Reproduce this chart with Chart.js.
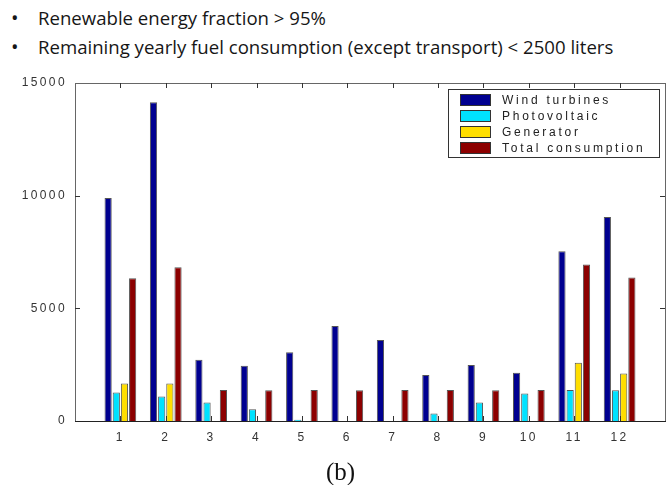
<!DOCTYPE html>
<html>
<head>
<meta charset="utf-8">
<script src="https://cdn.jsdelivr.net/npm/chart.js@4.4.0/dist/chart.umd.min.js"></script>
<style>
    html, body { margin: 0; padding: 0; background: #fff; }
    #wrap { position: relative; width: 669px; height: 485px; overflow: hidden; }
    #energy_canvas { position: absolute; left: 0; top: 0; }
    .line { position: absolute; left: 0; white-space: nowrap; font-family: "Open Sans", sans-serif; font-size: 18.6px; color: #161616; }
    .line .dot { position: absolute; left: 11px; font-size: 20px; top: -1px; }
    .line .txt { position: absolute; left: 38px; }
    #caption { position: absolute; left: 0; width: 681px; top: 458px; text-align: center; font-family: "Liberation Serif", serif; font-size: 25px; color: #111; }
</style>
</head>
<body>
<div id="wrap">
    <div class="line" style="top:5px"><span class="dot">&bull;</span><span class="txt">Renewable energy fraction &gt; 95%</span></div>
    <div class="line" style="top:34px"><span class="dot">&bull;</span><span class="txt">Remaining yearly fuel consumption (except transport) &lt; 2500 liters</span></div>
    <canvas id="energy_canvas" width="669" height="485"></canvas>
    <div id="caption">(b)</div>
</div>
<script>
// months on the x axis
var months = [1, 2, 3, 4, 5, 6, 7, 8, 9, 10, 11, 12];

// monthly energy values
var windTurbines = [9900, 14150, 2720, 2450, 3050, 4220, 3600, 2040, 2480, 2140, 7530, 9050];
var photovoltaic = [1260, 1090, 820, 520, 60, 0, 0, 330, 820, 1220, 1380, 1360];
var generator = [1660, 1660, 0, 0, 0, 0, 0, 0, 0, 0, 2580, 2110];
var totalConsumption = [6340, 6820, 1380, 1360, 1380, 1360, 1380, 1380, 1360, 1380, 6950, 6370];

var yTicks = [0, 5000, 10000, 15000];

var seriesLabels = ["Wind turbines", "Photovoltaic", "Generator", "Total consumption"];
var seriesColors = ["#000090", "#00E2FF", "#FFDE00", "#8C0000"];

var energy_canvas = document.getElementById("energy_canvas");

function makeDataset(i, values) {
    return {
        label: seriesLabels[i],
        data: values,
        backgroundColor: seriesColors[i],
        borderColor: "#555",
        // no outline for empty bars
        borderWidth: function (c) {
            return c.raw ? 1 : 0;
        },
        borderSkipped: "bottom",
        categoryPercentage: 0.72,
        barPercentage: 0.88,
    };
}

// matlab style box with inward ticks + legend in the upper right corner
var boxPlugin = {
    id: "boxPlugin",
    beforeDraw: function (chart) {
        chart.ctx.letterSpacing = "2.4px";
    },
    afterDatasetsDraw: function (chart) {
        var ctx = chart.ctx;
        var a = chart.chartArea;
        var xs = chart.scales.x;
        var ys = chart.scales.y;
        ctx.save();
        ctx.lineWidth = 1;
        ctx.strokeStyle = "#666";
        ctx.strokeRect(Math.round(a.left) + 0.5, Math.round(a.top) + 0.5, Math.round(a.right - a.left), Math.round(a.bottom - a.top));
        ctx.strokeStyle = "#222";
        ctx.beginPath();
        ctx.moveTo(a.left, Math.round(a.bottom) + 0.5);
        ctx.lineTo(a.right + 1, Math.round(a.bottom) + 0.5);
        ctx.stroke();

        ctx.strokeStyle = "#333";
        ctx.beginPath();
        months.forEach(function (m) {
            var px = Math.round(xs.getPixelForValue(m)) + 0.5;
            ctx.moveTo(px, a.bottom);
            ctx.lineTo(px, a.bottom - 5);
            ctx.moveTo(px, a.top);
            ctx.lineTo(px, a.top + 5);
        });
        yTicks.slice(1, -1).forEach(function (v) {
            var py = Math.round(ys.getPixelForValue(v)) + 0.5;
            ctx.moveTo(a.left, py);
            ctx.lineTo(a.left + 5, py);
            ctx.moveTo(a.right, py);
            ctx.lineTo(a.right - 5, py);
        });
        ctx.stroke();
        ctx.restore();
    },
    afterDraw: function (chart) {
        var ctx = chart.ctx;
        var a = chart.chartArea;
        var w = 211, h = 68;
        var left = Math.round(a.right - 6 - w);
        var top = Math.round(a.top + 6);
        ctx.save();
        ctx.fillStyle = "#fff";
        ctx.fillRect(left, top, w, h);
        ctx.strokeStyle = "#333";
        ctx.lineWidth = 1;
        ctx.strokeRect(left + 0.5, top + 0.5, w, h);
        ctx.font = "12px 'Liberation Sans', Arial, sans-serif";
        ctx.letterSpacing = "2.75px";
        ctx.textBaseline = "middle";
        chart.data.datasets.forEach(function (ds, i) {
            var cy = top + 11 + i * 16;
            ctx.fillStyle = ds.backgroundColor;
            ctx.fillRect(left + 12, cy - 6, 30, 12);
            ctx.strokeStyle = "#333";
            ctx.strokeRect(left + 12.5, cy - 5.5, 30, 11);
            ctx.fillStyle = "#222";
            ctx.fillText(ds.label, left + 54, cy + 1);
        });
        ctx.restore();
        ctx.letterSpacing = "0px";
    },
};

var energyChart = new Chart(energy_canvas, {
    type: "bar",
    data: {
        labels: months,
        datasets: [
            makeDataset(0, windTurbines),
            makeDataset(1, photovoltaic),
            makeDataset(2, generator),
            makeDataset(3, totalConsumption),
        ],
    },
    options: {
        responsive: false,
        animation: false,
        layout: {
            padding: { top: 83, right: 4, left: 0, bottom: 40 },
        },
        plugins: {
            legend: { display: false },
            tooltip: { enabled: false },
        },
        scales: {
            x: {
                type: "linear",
                min: 0,
                max: 13,
                offset: false,
                grid: { display: false, drawTicks: false, offset: false },
                border: { display: false },
                afterFit: function (scale) {
                    scale.height = 24;
                    scale.paddingLeft = 0;
                    scale.paddingRight = 0;
                },
                ticks: {
                    stepSize: 1,
                    padding: 9,
                    color: "#333",
                    font: { family: "'Liberation Sans', Arial, sans-serif", size: 12 },
                    callback: function (v) {
                        return months.indexOf(v) >= 0 ? String(v) : "";
                    },
                },
            },
            y: {
                min: 0,
                max: 15000,
                grid: { display: false, drawTicks: false },
                border: { display: false },
                afterFit: function (scale) {
                    scale.width = 75;
                },
                ticks: {
                    stepSize: 5000,
                    padding: 8,
                    color: "#333",
                    font: { family: "'Liberation Sans', Arial, sans-serif", size: 12 },
                    callback: function (v) {
                        return String(v);
                    },
                },
            },
        },
    },
    plugins: [boxPlugin],
});
</script>
</body>
</html>
